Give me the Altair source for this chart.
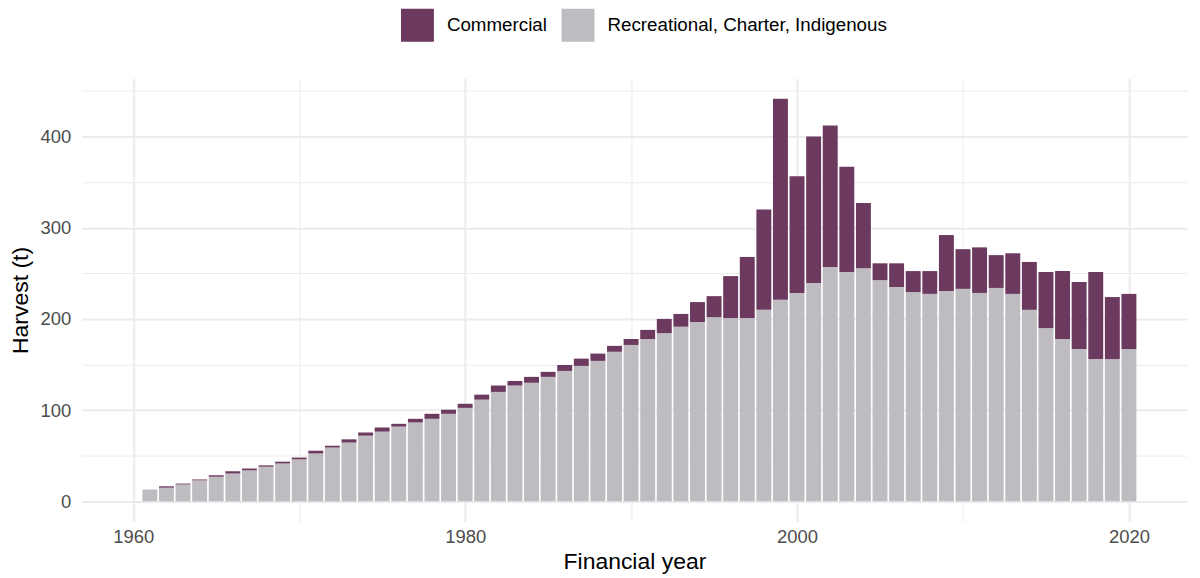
import altair as alt
import pandas as pd

years = list(range(1961, 2021))
recreational = [
    13, 15, 18.5, 23, 27, 30.5, 34, 38, 41.5, 46,
    52.5, 59, 64.5, 72, 76.5, 82, 86.5, 90.5, 96, 102.5,
    111.5, 120, 127, 130, 136.5, 143, 148.5, 154, 164, 171.5,
    178, 184.5, 191.5, 196.5, 202, 201, 201, 210, 221, 228.5,
    239.5, 257, 251.5, 255.5, 242.5, 235, 229.5, 227.5, 230.5, 233,
    228.5, 234, 227.5, 210, 190, 178, 167, 156, 156, 167,
]
commercial = [
    0, 1.5, 1, 1, 1.5, 2.5, 2, 1.5, 2, 2,
    3, 2, 3.5, 3.5, 4.5, 3, 4, 5.5, 4.5, 4.5,
    5.5, 7, 5, 6.5, 5.5, 6.5, 8, 8, 6.5, 6.5,
    10, 15.5, 14, 22, 23, 46, 67, 110, 220.5, 128,
    160.5, 155, 115.5, 71.5, 18.5, 26, 23, 25, 61.5, 43.5,
    50, 36, 44.5, 52.5, 61.5, 74.5, 73.5, 95.5, 68, 60.5,
]
series_names = ["Commercial", "Recreational, Charter, Indigenous"]
series_colors = ["#6d3a5f", "#bebcc1"]
x_ticks = [1960, 1970, 1980, 1990, 2000, 2010, 2020]
y_ticks = [0, 50, 100, 150, 200, 250, 300, 350, 400, 450]

rows = []
for yr, r, c in zip(years, recreational, commercial):
    rows.append({"year": yr, "series": series_names[1], "value": r, "ord": 0})
    rows.append({"year": yr, "series": series_names[0], "value": c, "ord": 1})
df = pd.DataFrame(rows)

FONT = "Liberation Sans"

bars = (
    alt.Chart(df)
    .transform_stack(
        stack="value", as_=["v0", "v1"], groupby=["year"], sort=[{"field": "ord", "order": "ascending"}]
    )
    .transform_calculate(x0="datum.year - 0.45", x1="datum.year + 0.45")
    .mark_bar(strokeWidth=0)
    .encode(
        x=alt.X(
            "x0:Q",
            title="Financial year",
            scale=alt.Scale(domain=[1956.9, 2023.5], nice=False, zero=False),
            axis=alt.Axis(
                values=x_ticks,
                labelExpr="datum.value % 20 === 0 ? datum.value : ''",
                grid=True,
                gridColor="#ebebeb",
                gridWidth={"condition": {"test": "datum.value % 20 === 0", "value": 2}, "value": 1},
                ticks=False,
                domain=False,
                labelFontSize=18.5,
                labelColor="#4d4d4d",
                labelPadding=6,
                labelOverlap=False,
                titleFontSize=23,
                titleFontWeight="normal",
                titleColor="#000000",
                titlePadding=5,
            ),
        ),
        x2="x1:Q",
        y=alt.Y(
            "v0:Q",
            title="Harvest (t)",
            scale=alt.Scale(domain=[-22, 463.6], nice=False, zero=False),
            axis=alt.Axis(
                values=y_ticks,
                labelExpr="datum.value % 100 === 0 ? datum.value : ''",
                grid=True,
                gridColor="#ebebeb",
                gridWidth={"condition": {"test": "datum.value % 100 === 0", "value": 2}, "value": 1},
                ticks=False,
                domain=False,
                labelFontSize=18.5,
                labelColor="#4d4d4d",
                labelPadding=11,
                labelOverlap=False,
                titleFontSize=23,
                titleFontWeight="normal",
                titleColor="#000000",
                titlePadding=8,
            ),
        ),
        y2="v1:Q",
        color=alt.Color(
            "series:N",
            scale=alt.Scale(domain=series_names, range=series_colors),
            legend=alt.Legend(
                title=None,
                orient="none",
                legendX=320,
                legendY=-70,
                direction="horizontal",
                symbolType="square",
                symbolSize=1089,
                symbolStrokeWidth=0,
                symbolOpacity=1,
                labelFontSize=18.8,
                labelLimit=0,
                labelColor="#000000",
                labelOffset=13,
                columnPadding=14,
                padding=0,
            ),
        ),
    )
)

chart = (
    bars.properties(width=1108, height=444, padding={"left": 1, "top": 0, "right": 5, "bottom": 0})
    .configure(font=FONT)
    .configure_view(stroke=None)
)

chart.save("out.html", embed_options={"renderer": "svg", "actions": False})
